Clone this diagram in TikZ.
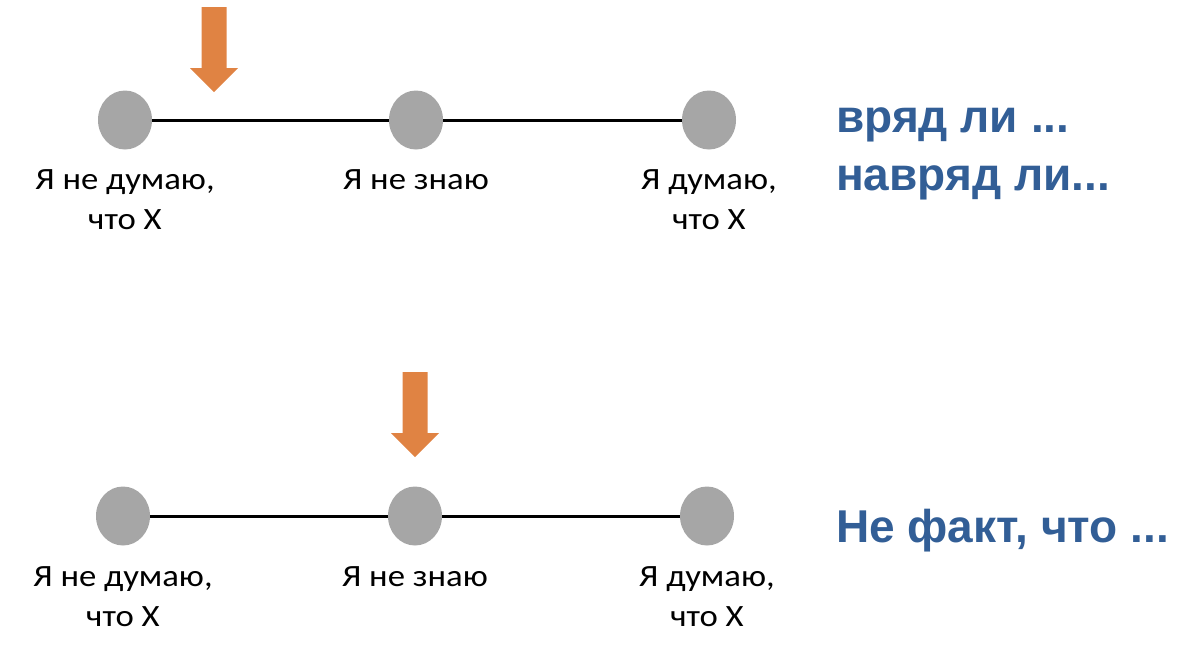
\documentclass[tikz,border=0pt]{standalone}
\usepackage{fontspec}
\setmainfont{Carlito}[FakeStretch=1.12]
\newfontfamily\hintfont{Liberation Sans}
\usetikzlibrary{shapes.geometric}
\usetikzlibrary{positioning}

\definecolor{dotgray}{RGB}{166,166,166}
\definecolor{pointorange}{RGB}{224,131,67}
\definecolor{hintblue}{RGB}{50,94,150}

\begin{document}
\begin{tikzpicture}[x=1pt, y=-1pt,
    dot/.style={ellipse, fill=dotgray, minimum width=54pt, minimum height=59pt, inner sep=0pt},
    link/.style={draw=black, line width=3pt},
    caption/.style={align=center, inner sep=0pt, font=\fontsize{31}{40}\selectfont},
    pointer/.style={fill=pointorange},
    hint/.style={anchor=base west, inner sep=0pt, text=hintblue,
                 font=\hintfont\bfseries\fontsize{46}{58}\selectfont}]
	\useasboundingbox (0,0) rectangle (1182,646);

	% top scale
	\node[dot] (t1) at (125,120) {};
	\node[dot] (t2) at (416,120) {};
	\node[dot] (t3) at (709,120) {};
	\path[link] (t1) -- (t2);
	\path[link] (t2) -- (t3);
	\node[caption, below=20pt of t1] (tl1) {Я не думаю,\\что X};
	\node[caption, below=20pt of t2] (tl2) {Я не знаю};
	\node[caption, below=20pt of t3] (tl3) {Я думаю,\\что X};

	% bottom scale
	\node[dot] (b1) at (123,516) {};
	\node[dot] (b2) at (415,516) {};
	\node[dot] (b3) at (707,516) {};
	\path[link] (b1) -- (b2);
	\path[link] (b2) -- (b3);
	\node[caption, below=21pt of b1] (bl1) {Я не думаю,\\что X};
	\node[caption, below=21pt of b2] (bl2) {Я не знаю};
	\node[caption, below=21pt of b3] (bl3) {Я думаю,\\что X};

	% arrows
	\foreach \ax/\ay in {214/7, 415/372}
		\fill[pointer, shift={(\ax,\ay)}] (-12.5,0) -- (12.5,0) -- (12.5,61)
			-- (24,61) -- (0,85) -- (-24,61) -- (-12.5,61) -- cycle;

	% words
	\node[hint] (h1) at (836,132) {вряд ли ...};
	\node[hint] (h2) at (836,190) {навряд ли...};
	\node[hint] (h3) at (836,542) {Не факт, что ...};
\end{tikzpicture}
\end{document}
